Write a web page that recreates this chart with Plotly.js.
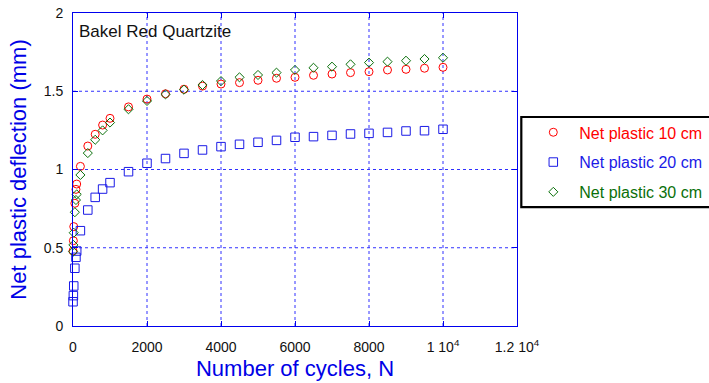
<!DOCTYPE html>
<html>
<head>
<meta charset="utf-8">
<script src="https://cdn.plot.ly/plotly-3.0.1.min.js"></script>
<style>html,body{margin:0;padding:0;background:#fff;}#chart{width:709px;height:383px;}</style>
</head>
<body>
<div id="chart"></div>
<script>
// Number of cycles
const cycles = [1, 10, 20, 50, 80, 100, 200, 400, 600, 800, 1000, 1500, 2000, 2500, 3000, 3500, 4000, 4500, 5000, 5500, 6000, 6500, 7000, 7500, 8000, 8500, 9000, 9500, 10000];
// Net plastic deflection (mm)
const net10 = [0.48, 0.545, 0.635, 0.784, 0.873, 0.907, 1.02, 1.15, 1.225, 1.284, 1.327, 1.40, 1.45, 1.484, 1.513, 1.533, 1.546, 1.555, 1.57, 1.583, 1.589, 1.602, 1.61, 1.619, 1.625, 1.636, 1.64, 1.647, 1.653];
const net20 = [0.155, 0.194, 0.256, 0.369, 0.439, 0.479, 0.609, 0.741, 0.822, 0.875, 0.916, 0.986, 1.04, 1.07, 1.103, 1.125, 1.146, 1.161, 1.174, 1.186, 1.206, 1.21, 1.218, 1.227, 1.231, 1.237, 1.246, 1.248, 1.257];
const net30 = [0.475, 0.518, 0.596, 0.727, 0.805, 0.841, 0.965, 1.105, 1.19, 1.25, 1.30, 1.385, 1.438, 1.48, 1.51, 1.54, 1.565, 1.589, 1.604, 1.619, 1.636, 1.65, 1.657, 1.672, 1.683, 1.689, 1.695, 1.706, 1.714];
const seriesNames = ["Net plastic 10 cm", "Net plastic 20 cm", "Net plastic 30 cm"];
const xTickVals = [0, 2000, 4000, 6000, 8000, 10000, 12000];
const xTickText = ["0", "2000", "4000", "6000", "8000", "1 10<sup>4</sup>", "1.2 10<sup>4</sup>"];
const yTickVals = [0, 0.5, 1, 1.5, 2];
const yTickText = ["0", "0.5", "1", "1.5", "2"];

const FONT = "Liberation Sans, Arial, Helvetica, sans-serif";
const RED = "#ff0000", BLUE = "#1a1ae6", GREEN = "#0a700a";
const AXC = "#0000ee";
const GRIDC = "#3030ff";

function tr(y, name, color, symbol, size, grp) {
  return {
    x: cycles, y: y, type: "scatter", mode: "markers", cliponaxis: false,
    name: '<span style="color:' + color + '">' + name + '</span>',
    legendgroup: grp,
    marker: {symbol: symbol, size: size, color: color, line: {color: color, width: 1}}
  };
}

const data = [
  tr(net10, seriesNames[0], RED, "circle-open", 8, "a"),
  tr(net20, seriesNames[1], BLUE, "square-open", 8.5, "b"),
  tr(net30, seriesNames[2], GREEN, "diamond-open", 7, "c")
];

const axisCommon = {
  showline: true, linecolor: AXC, linewidth: 1, mirror: "ticks",
  ticks: "inside", ticklen: 5, tickcolor: AXC, tickwidth: 1,
  showgrid: false, zeroline: false,
  tickfont: {family: FONT, size: 14, color: "#111"}
};

// dotted grid lines placed at the tick values
const gridShapes = [];
xTickVals.slice(1, -1).forEach(v => gridShapes.push({
  type: "line", xref: "x", yref: "paper", x0: v, x1: v, y0: 0, y1: 1, layer: "below",
  line: {color: GRIDC, width: 1, dash: "dot"}
}));
yTickVals.slice(1, -1).forEach(v => gridShapes.push({
  type: "line", xref: "paper", yref: "y", x0: 0, x1: 1, y0: v, y1: v, layer: "below",
  line: {color: GRIDC, width: 1, dash: "dot"}
}));

const layout = {
  width: 709, height: 383,
  margin: {l: 73, r: 192, t: 13, b: 57, autoexpand: false},
  paper_bgcolor: "#fff", plot_bgcolor: "#fff",
  font: {family: FONT},
  showlegend: true,
  legend: {
    x: 1.0232, xanchor: "left", y: 0.673, yanchor: "top",
    borderwidth: 0, bgcolor: "rgba(0,0,0,0)",
    font: {family: FONT, size: 16, color: "#000"},
    itemwidth: 42, tracegroupgap: 6, traceorder: "grouped"
  },
  xaxis: Object.assign({}, axisCommon, {
    range: [0, 12000], tickmode: "array", tickvals: xTickVals, ticktext: xTickText,
    ticklabelstandoff: 8,
    title: {text: "Number of cycles, N", font: {family: FONT, size: 22, color: "#0000e6"}, standoff: 6}
  }),
  yaxis: Object.assign({}, axisCommon, {
    range: [0, 2], tickmode: "array", tickvals: yTickVals, ticktext: yTickText,
    ticklabelstandoff: 6,
    title: {text: "Net plastic deflection (mm)", font: {family: FONT, size: 22, color: "#0000e6"}, standoff: 11}
  }),
  shapes: gridShapes.concat([{
    type: "rect", xref: "paper", yref: "paper",
    x0: 1.0097, x1: 1.6, y0: 0.380, y1: 0.6677,
    line: {color: "#000", width: 2.2}, fillcolor: "rgba(0,0,0,0)"
  }]),
  annotations: [{
    xref: "paper", yref: "paper", x: 0.01, y: 0.94, xanchor: "left", yanchor: "middle",
    text: "Bakel Red Quartzite", showarrow: false,
    font: {family: FONT, size: 17, color: "#111"}
  }]
};

Plotly.newPlot("chart", data, layout, {displayModeBar: false, staticPlot: true});
</script>
</body>
</html>
